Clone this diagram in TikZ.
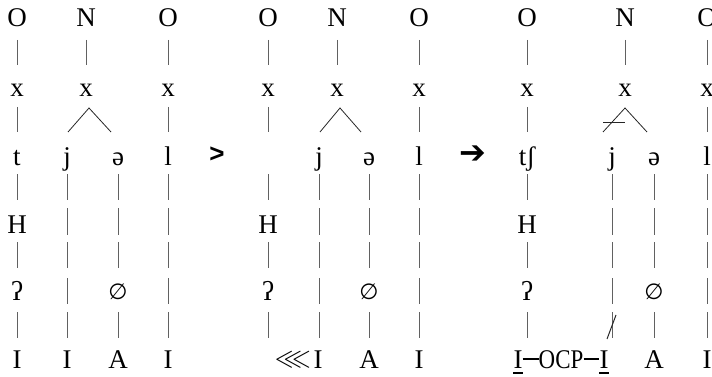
\documentclass[tikz,border=0pt]{standalone}
\usepackage{amssymb}
\usepackage{fontspec}
\setmainfont{Liberation Serif}
\newfontfamily\symfont{DejaVu Sans}
\newfontfamily\arrfont{Liberation Sans}
\begin{document}
\begin{tikzpicture}[x=1pt,y=-1pt,
  lab/.style={anchor=base, inner sep=0pt, font=\fontsize{27}{31}\selectfont},
  barline/.style={draw=black!62, line width=0.9pt},
  branch/.style={draw=black!85, line width=0.8pt},
  tie/.style={draw=black, line width=1.1pt}]
\useasboundingbox (0,0) rectangle (712,377);
% columns: outer-left, N, outer-right, j, schwa
\foreach \cx in {17,268,527}{
  \foreach \ta/\tb in {40/65,107/132,174/200,242/268,312/338}
    \draw[barline] (\cx,\ta) -- (\cx,\tb);}
\foreach \cx in {86,337,625}{\draw[barline] (\cx,40) -- (\cx,65);}
\foreach \cx in {168,419,707}{
  \foreach \ta/\tb in {40/65,107/132,174/200,208/235,242/268,278/304,312/338}
    \draw[barline] (\cx,\ta) -- (\cx,\tb);}
\foreach \cx in {67,319,612}{
  \foreach \ta/\tb in {174/200,208/235,242/268,278/304,312/338}
    \draw[barline] (\cx,\ta) -- (\cx,\tb);}
\foreach \cx in {118,369,654}{
  \foreach \ta/\tb in {174/200,208/235,242/268,312/338}
    \draw[barline] (\cx,\ta) -- (\cx,\tb);}

% ---------- panel 1 ----------
\node[lab] (o1a) at (17,27) {O};
\node[lab] (n1) at (86,27) {N};
\node[lab] (o1b) at (168,27) {O};
\node[lab] (x1a) at (17,97) {x};
\node[lab] (x1n) at (86,97) {x};
\node[lab] (x1b) at (168,97) {x};
\node[lab] (t1) at (17,165) {t};
\node[lab] (j1) at (67,165) {j};
\node[lab] (e1) at (118,165) {ə};
\node[lab] (l1) at (168,165) {l};
\node[lab] (h1) at (17,233) {H};
\node[lab] (q1) at (17,300) {ʔ};
\node[lab,font=\symfont\fontsize{22}{26}\selectfont] (z1) at (118,299) {∅};
\node[lab] (i1a) at (17,368) {I};
\node[lab] (i1b) at (67,368) {I};
\node[lab] (a1) at (118,368) {A};
\node[lab] (i1c) at (168,368) {I};
\coordinate (ap1) at (89,108);
\coordinate (bl1) at (68,132);
\coordinate (br1) at (111,132);
\draw[branch] (bl1) -- (ap1) -- (br1);
\node[anchor=center,inner sep=0pt,font=\arrfont\bfseries\fontsize{26}{30}\selectfont] (gt) at (217,155) {>};

% ---------- panel 2 ----------
\node[lab] (o2a) at (268,27) {O};
\node[lab] (n2) at (337,27) {N};
\node[lab] (o2b) at (419,27) {O};
\node[lab] (x2a) at (268,97) {x};
\node[lab] (x2n) at (337,97) {x};
\node[lab] (x2b) at (419,97) {x};
\node[lab] (j2) at (319,165) {j};
\node[lab] (e2) at (369,165) {ə};
\node[lab] (l2) at (419,165) {l};
\node[lab] (h2) at (268,233) {H};
\node[lab] (q2) at (268,300) {ʔ};
\node[lab,font=\symfont\fontsize{22}{26}\selectfont] (z2) at (369,299) {∅};
\node[lab] (i2b) at (318,368) {I};
\node[lab,anchor=base east] (ll2) at (311,366) {$\lll$};
\node[lab] (a2) at (369,368) {A};
\node[lab] (i2c) at (419,368) {I};
\coordinate (ap2) at (340,108);
\coordinate (bl2) at (320,132);
\coordinate (br2) at (361,132);
\draw[branch] (bl2) -- (ap2) -- (br2);
\node[anchor=center,inner sep=0pt,font=\symfont\fontsize{32}{36}\selectfont] (arr) at (473,155) {➔};

% ---------- panel 3 ----------
\node[lab] (o3a) at (527,27) {O};
\node[lab] (n3) at (625,27) {N};
\node[lab] (o3b) at (707,27) {O};
\node[lab] (x3a) at (527,97) {x};
\node[lab] (x3n) at (625,97) {x};
\node[lab] (x3b) at (707,97) {x};
\node[lab] (t3) at (527,165) {tʃ};
\node[lab] (j3) at (612,165) {j};
\node[lab] (e3) at (654,165) {ə};
\node[lab] (l3) at (707,165) {l};
\node[lab] (h3) at (527,233) {H};
\node[lab] (q3) at (527,300) {ʔ};
\node[lab,font=\symfont\fontsize{22}{26}\selectfont] (z3) at (654,299) {∅};
\node[lab] (i3a) at (518,368) {I};
\node[lab,xscale=0.85] (ocp) at (561,368) {OCP};
\node[lab] (i3b) at (604,368) {I};
\node[lab] (a3) at (654,368) {A};
\node[lab] (i3c) at (707,368) {I};
\draw[tie] ([yshift=-5pt]i3a.base west) -- ([yshift=-5pt]i3a.base east);
\draw[tie] ([yshift=-5pt]i3b.base west) -- ([yshift=-5pt]i3b.base east);
\coordinate (d1a) at ([yshift=9pt]i3a.base east);
\coordinate (d1b) at ([yshift=9pt]ocp.base west);
\coordinate (d2a) at ([yshift=9pt]ocp.base east);
\coordinate (d2b) at ([yshift=9pt]i3b.base west);
\draw[tie] (d1a) -- (d1b);
\draw[tie] (d2a) -- (d2b);
\coordinate (ap3) at (625,108);
\coordinate (bl3) at (603,132);
\coordinate (br3) at (647,132);
\draw[branch] (bl3) -- (ap3) -- (br3);
\coordinate (sk1) at (603,122);
\coordinate (sk2) at (625,122);
\draw[branch] (sk1) -- (sk2);
\coordinate (sl1) at (607,339);
\coordinate (sl2) at (616,315);
\draw[branch,line width=1pt] (sl1) -- (sl2);
\end{tikzpicture}
\end{document}
